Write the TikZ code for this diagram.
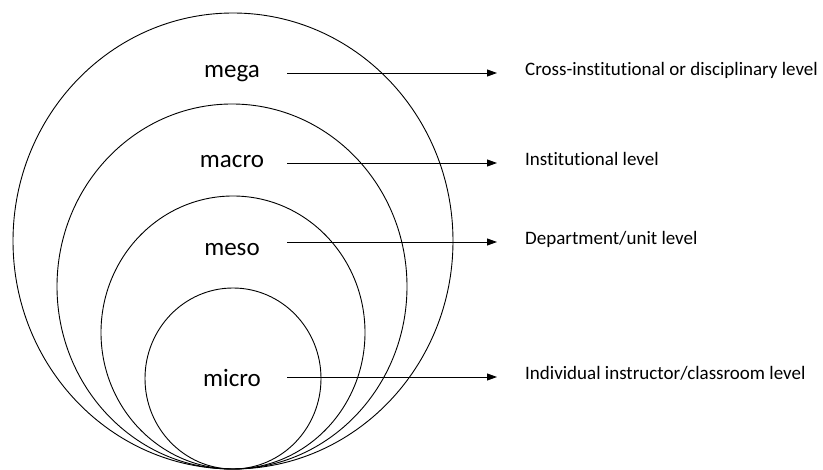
\documentclass[tikz,border=0pt]{standalone}
\usepackage{fontspec}
\setmainfont{Carlito}[Ligatures={NoCommon}]
\usetikzlibrary{arrows.meta}
\tikzstyle{level} = [inner sep=0pt, minimum width=110pt, anchor=base,
font=\fontsize{25}{25}\selectfont]
\tikzstyle{levelnote} = [inner sep=0pt, anchor=west, text height=0.644em, text depth=0.1em,
font=\fontsize{19}{19}\selectfont]
\tikzstyle{levelarrow} = [->, line width=0.9pt, shorten >=28pt]
\tikzstyle{ring} = [line width=0.9pt]

\begin{document}
\begin{tikzpicture}[
    x=1pt, y=-1pt, % pixel grid of the reference, y downwards
    >={Triangle[length=10pt,width=7pt]},
  ]
    \useasboundingbox (0,0) rectangle (823,470);

    % nested rings, all touching at the bottom
    \draw[ring] (233,241)   ellipse [x radius=220, y radius=228];
    \draw[ring] (232,286.5) ellipse [x radius=175, y radius=182.5];
    \draw[ring] (233,332.5) ellipse [x radius=132, y radius=136.5];
    \draw[ring] (233,378.5) ellipse [x radius=88,  y radius=90.5];

    \node[level] (mega)  at (232,78)  {mega};
    \node[level] (macro) at (232,168) {macro};
    \node[level] (meso)  at (232,256) {meso};
    \node[level] (micro) at (232,387) {micro};

    \node[levelnote] (crossinst) at (525,73)  {Cross-institutional or disciplinary level};
    \node[levelnote] (instit)    at (525,163) {Institutional level};
    \node[levelnote] (dept)      at (525,242) {Department/unit level};
    \node[levelnote] (indiv)     at (525,377) {Individual instructor/classroom level};

    \draw[levelarrow] (mega.east |- crossinst.west)  -- (crossinst.west);
    \draw[levelarrow] (macro.east |- instit.west)    -- (instit.west);
    \draw[levelarrow] (meso.east |- dept.west)       -- (dept.west);
    \draw[levelarrow] (micro.east |- indiv.west)     -- (indiv.west);
  \end{tikzpicture}
\end{document}
